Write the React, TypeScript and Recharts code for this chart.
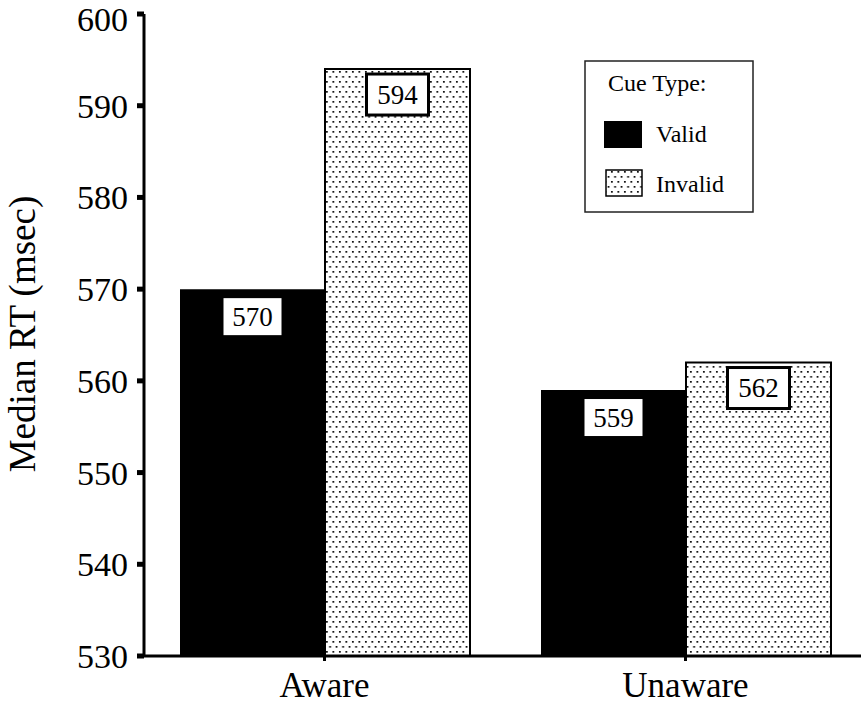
import { Bar, BarChart, LabelList, Legend, XAxis, YAxis } from 'recharts';

// values
const groups = ['Aware', 'Unaware'];
const validRT = [570, 559];
const invalidRT = [594, 562];
const yTicks = [530, 540, 550, 560, 570, 580, 590, 600];

const data = groups.map((g, i) => ({ group: g, valid: validRT[i], invalid: invalidRT[i] }));

const FONT = 'Liberation Serif';

const ValueBox = (props: any) => {
  const { x, y, width, value, boxed } = props;
  const w = boxed ? 62 : 58;
  const h = boxed ? 41 : 37;
  const top = y + (boxed ? 5 : 9);
  const cx = x + width / 2;
  return (
    <g>
      <rect
        x={cx - w / 2}
        y={top}
        width={w}
        height={h}
        fill="#fff"
        stroke={boxed ? '#000' : 'none'}
        strokeWidth={3}
      />
      <text x={cx} y={top + h / 2 + 9} textAnchor="middle" fontFamily={FONT} fontSize={27} fill="#000">
        {value}
      </text>
    </g>
  );
};

// own tick text so the serif face is applied directly
const XTick = (props: any) => {
  const { x, y, payload } = props;
  return (
    <text x={x} y={y + 25} textAnchor="middle" fontFamily={FONT} fontSize={35} fill="#000">
      {payload.value}
    </text>
  );
};

const YTick = (props: any) => {
  const { x, y, payload } = props;
  // the top label sits a little lower, as in the original
  const shift = payload.value === yTicks[yTicks.length - 1] ? 17 : 12;
  return (
    <text x={x} y={y + shift} textAnchor="end" fontFamily={FONT} fontSize={34} fill="#000">
      {payload.value}
    </text>
  );
};

const CueLegend = () => (
  <svg width={170} height={153}>
    <rect x={1} y={1} width={168} height={151} fill="#fff" stroke="#222" strokeWidth={1.5} />
    <text x={24} y={31} fontFamily={FONT} fontSize={24} fill="#000">
      Cue Type:
    </text>
    <rect x={20} y={61} width={38} height={27} fill="#000" />
    <text x={72} y={82} fontFamily={FONT} fontSize={24} fill="#000">
      Valid
    </text>
    <rect x={22} y={110} width={36} height={26} fill="url(#dots)" stroke="#000" strokeWidth={1.5} />
    <text x={72} y={132} fontFamily={FONT} fontSize={24} fill="#000">
      Invalid
    </text>
  </svg>
);

export default function App() {
  return (
    <div style={{ position: 'absolute', left: 0, top: 0, width: 861, height: 719, background: '#fff' }}>
      <BarChart
        width={861}
        height={719}
        data={data}
        margin={{ top: 14, right: -5, bottom: 33, left: 0 }}
        barGap={0}
        barSize={145}
      >
        <defs>
          <pattern id="dots" width={6.5} height={10} patternUnits="userSpaceOnUse">
            <rect width={6.5} height={10} fill="#fff" />
            <rect x={1} y={1} width={1.7} height={1.7} fill="#000" />
            <rect x={4.25} y={6} width={1.7} height={1.7} fill="#000" />
          </pattern>
        </defs>
        <XAxis
          dataKey="group"
          axisLine={{ stroke: '#000', strokeWidth: 3 }}
          tickLine={{ stroke: '#000', strokeWidth: 3 }}
          tickSize={5}
          tickMargin={11}
          tick={<XTick />}
        />
        <YAxis
          width={144}
          domain={[530, 600]}
          ticks={yTicks}
          allowDataOverflow
          axisLine={{ stroke: '#000', strokeWidth: 3 }}
          tickLine={{ stroke: '#000', strokeWidth: 5 }}
          tickSize={7}
          tickMargin={9}
          tick={<YTick />}
          label={{
            content: () => (
              <text
                x={35}
                y={334}
                transform="rotate(-90 35 334)"
                textAnchor="middle"
                fontFamily={FONT}
                fontSize={37}
                fill="#000"
              >
                Median RT (msec)
              </text>
            ),
          }}
        />
        <Legend
          layout="horizontal"
          verticalAlign="middle"
          align="center"
          wrapperStyle={{ top: 60, left: 584, width: 170, height: 153 }}
          content={() => <CueLegend />}
        />
        <Bar dataKey="valid" name="Valid" fill="#000" isAnimationActive={false}>
          <LabelList dataKey="valid" content={(p: any) => <ValueBox {...p} boxed={false} />} />
        </Bar>
        <Bar dataKey="invalid" name="Invalid" fill="url(#dots)" stroke="#000" strokeWidth={2} isAnimationActive={false}>
          <LabelList dataKey="invalid" content={(p: any) => <ValueBox {...p} boxed />} />
        </Bar>
      </BarChart>
    </div>
  );
}
